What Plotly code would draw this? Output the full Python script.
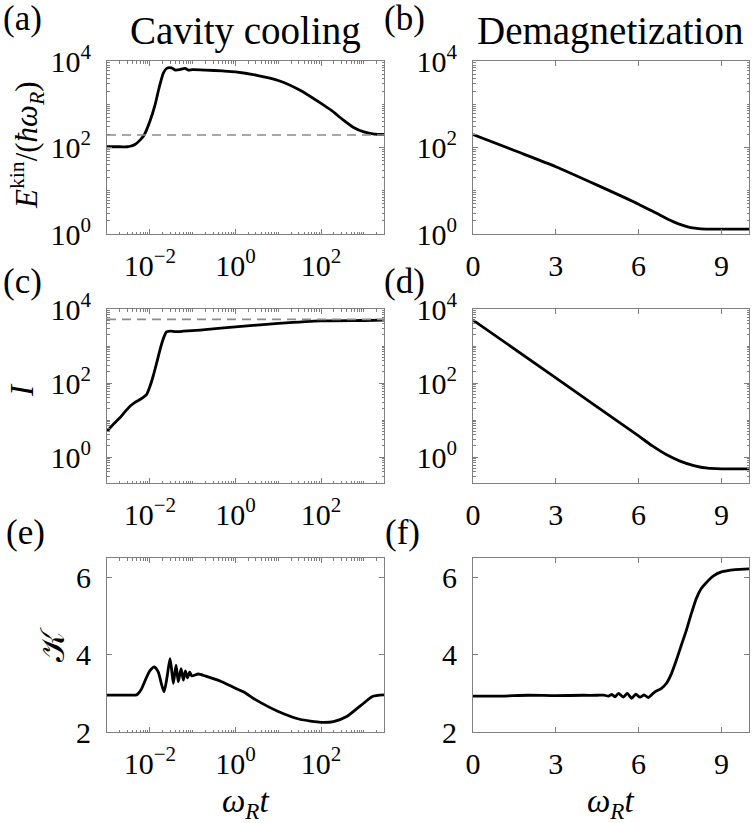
import math
import plotly.graph_objects as go

# ---------------- data ----------------
# left column: log time axis
t_ekin_cav = [1e-3, 2e-3, 3e-3, 3.5e-3, 4.5e-3, 5.9e-3, 7.4e-3, 1.0e-2, 1.32e-2, 1.64e-2,
              2.07e-2, 2.48e-2, 3.2e-2, 4.0e-2, 5.0e-2, 6.6e-2, 8e-2, 0.1, 0.2, 0.5,
              1, 3.16, 10, 31.6, 100, 178, 316, 562, 1000, 1778, 2950]
ekin_cav = [104, 104, 104, 107, 117, 148, 195, 398, 955, 2344,
            5248, 6761, 6918, 6166, 6310, 6761, 6166, 6310, 6166, 5888,
            5623, 4677, 3548, 2138, 1047, 708, 447, 295, 229, 204, 200]
ekin_ref = 195          # dashed level in (a)

t_I_cav = [1e-3, 1.5e-3, 2e-3, 2.7e-3, 3.5e-3, 4.5e-3, 5.9e-3, 7.4e-3, 8.5e-3, 1.0e-2,
           1.2e-2, 1.45e-2, 1.74e-2, 2.1e-2, 2.45e-2, 2.95e-2, 4e-2, 6e-2, 0.148, 1,
           10, 100, 1000, 2950]
I_cav = [5.0, 8.3, 11.5, 17.4, 24, 30, 36, 43, 50, 79,
         155, 355, 813, 1660, 2400, 2510, 2455, 2510, 2690, 3311,
         4074, 4786, 4898, 5012]
I_ref = 5250            # dashed level in (c)

t_K_cav = [1e-3, 3e-3, 4.9e-3, 6.3e-3, 7.9e-3, 1.0e-2, 1.27e-2, 1.58e-2, 1.86e-2, 2.15e-2,
           2.51e-2, 2.96e-2, 3.24e-2, 3.55e-2, 4.09e-2, 4.63e-2, 5.37e-2, 6.07e-2, 6.76e-2,
           7.59e-2, 8.51e-2, 9.55e-2, 0.135, 0.195, 0.479, 1, 1.53, 3.0, 10, 31.6,
           100, 195, 398, 1000, 1585, 2950]
K_cav = [2.955, 2.955, 2.96, 3.10, 3.35, 3.58, 3.685, 3.55, 3.25, 3.04,
         3.40, 3.90, 3.60, 3.26, 3.73, 3.30, 3.64, 3.34, 3.58,
         3.40, 3.55, 3.45, 3.50, 3.45, 3.30, 3.13, 3.04, 2.83, 2.53, 2.33,
         2.25, 2.27, 2.40, 2.75, 2.92, 2.96]

# right column: linear time axis
t_ekin_dem = [0, 1.5, 3, 4.5, 6, 6.65, 7.25, 7.85, 8.45, 9, 10]
ekin_dem = [200, 85, 36, 13.5, 4.9, 3.0, 1.93, 1.43, 1.30, 1.30, 1.30]

t_I_dem = [0, 3, 6, 6.5, 7, 7.5, 8, 8.5, 9, 10]
I_dem = [5012, 138, 3.72, 2.0, 1.17, 0.78, 0.59, 0.50, 0.48, 0.48]

t_K_dem = [0, 1, 2, 3, 4, 4.5, 4.73, 4.91, 5.03, 5.15, 5.27, 5.45, 5.59, 5.75, 5.90,
           6.05, 6.20, 6.35, 6.47, 6.59, 6.83, 7.01, 7.19, 7.37, 7.55, 7.73, 7.91,
           8.09, 8.27, 8.45, 8.7, 9.0, 9.5, 10]
K_dem = [2.93, 2.93, 2.95, 2.94, 2.95, 2.95, 2.955, 2.93, 2.97, 2.91, 3.00, 2.90, 3.00,
         2.87, 2.98, 2.90, 2.96, 2.89, 2.96, 3.04, 3.13, 3.26, 3.51, 3.86, 4.25, 4.63,
         5.06, 5.45, 5.71, 5.86, 6.03, 6.14, 6.20, 6.22]

titles = ["Cavity cooling", "Demagnetization"]
panel_labels = ["(a)", "(b)", "(c)", "(d)", "(e)", "(f)"]
log_x_range = [1e-3, 2950]
log_x_tickvals = [1e-2, 1, 1e2]
log_x_ticktext = ["10<sup>−2</sup>", "10<sup>0</sup>", "10<sup>2</sup>"]
log_y_tickvals = [1, 1e2, 1e4]
log_y_ticktext = ["10<sup>0</sup>", "10<sup>2</sup>", "10<sup>4</sup>"]
lin_x_tickvals = [0, 3, 6, 9]
lin_y_tickvals = [2, 4, 6]

# ---------------- figure ----------------
W, H = 754, 823
FONT = "Liberation Serif"
AX = "#7f7f7f"

def px(x):
    return x / W

def py(y):
    return 1 - y / H

xdomL = [px(107), px(384)]
xdomR = [px(473), px(749)]
rows = [[py(234), py(61)], [py(483), py(309)], [py(732), py(558)]]

fig = go.Figure()
line = dict(color="black", width=2.8, shape="spline", smoothing=0.6)

series = [
    (t_ekin_cav, ekin_cav, 1), (t_ekin_dem, ekin_dem, 2),
    (t_I_cav, I_cav, 3), (t_I_dem, I_dem, 4),
    (t_K_cav, K_cav, 5), (t_K_dem, K_dem, 6),
]
for xs, ys, k in series:
    sfx = "" if k == 1 else str(k)
    fig.add_trace(go.Scatter(x=xs, y=ys, mode="lines", line=line,
                             xaxis="x" + sfx, yaxis="y" + sfx, showlegend=False))

dash = dict(color="#8c8c8c", width=1.6, dash="9px,6px")
fig.add_trace(go.Scatter(x=log_x_range, y=[ekin_ref, ekin_ref], mode="lines", line=dash,
                         xaxis="x", yaxis="y", showlegend=False))
fig.add_trace(go.Scatter(x=log_x_range, y=[I_ref, I_ref], mode="lines", line=dash,
                         xaxis="x3", yaxis="y3", showlegend=False))

def minor_vals(lo, hi):
    return [m * 10.0 ** e for e in range(-4, 5) for m in range(1, 10)
            if lo <= math.log10(m * 10.0 ** e) <= hi]

tickfont = dict(family=FONT, size=30, color="black")
common = dict(showline=True, linecolor=AX, linewidth=1, mirror="ticks", ticks="inside",
              tickcolor=AX, ticklen=5, showgrid=False, zeroline=False, tickfont=tickfont,
              automargin=False)

lay = {}
xlo, xhi = math.log10(log_x_range[0]), math.log10(log_x_range[1])
for k in range(1, 7):
    sfx = "" if k == 1 else str(k)
    left = (k % 2 == 1)
    r = (k - 1) // 2
    xa = dict(common, domain=xdomL if left else xdomR, anchor="y" + sfx,
              ticklabelstandoff=5)
    if left:
        xa.update(type="log", range=[xlo, xhi], tickmode="array",
                  tickvals=log_x_tickvals, ticktext=log_x_ticktext,
                  minor=dict(ticks="inside", ticklen=2.5, tickcolor=AX, tickmode="array",
                             tickvals=minor_vals(xlo, xhi), showgrid=False))
    else:
        xa.update(type="linear", range=[0, 10], tickmode="array",
                  tickvals=lin_x_tickvals, ticktext=[str(v) for v in lin_x_tickvals])
    ya = dict(common, domain=rows[r], anchor="x" + sfx, ticklabelstandoff=9)
    if r < 2:
        ylo = 0 if r == 0 else -0.7
        ya.update(type="log", range=[ylo, 4], tickmode="array",
                  tickvals=log_y_tickvals, ticktext=log_y_ticktext,
                  minor=dict(ticks="inside", ticklen=2.5, tickcolor=AX, tickmode="array",
                             tickvals=minor_vals(ylo, 4), showgrid=False))
    else:
        ya.update(type="linear", range=[2, 6.5], tickmode="array",
                  tickvals=lin_y_tickvals, ticktext=[str(v) for v in lin_y_tickvals])
    lay["xaxis" + sfx] = xa
    lay["yaxis" + sfx] = ya

ann = []
def text(t, x, y, size, angle=0):
    ann.append(dict(text=t, x=px(x), y=py(y), xref="paper", yref="paper",
                    xanchor="center", yanchor="middle", showarrow=False,
                    textangle=angle, font=dict(family=FONT, size=size, color="black")))

text(titles[0], 245, 31, 39)
text(titles[1], 610, 31, 39)
for lab, (x, y) in zip(panel_labels, [(22, 18), (404, 18), (22, 281), (404, 281), (25, 532), (402, 532)]):
    text(lab, x, y, 35)
text("<i>E</i><sup>kin</sup>/(<i>ħω<sub>R</sub></i>)", 27, 145, 31, -90)
text("<i>I</i>", 22, 390, 33, -90)
text("𝒦", 53, 645, 33, -90)
text("<i>ω<sub>R</sub>t</i>", 245, 803, 33)
text("<i>ω<sub>R</sub>t</i>", 610, 803, 33)

fig.update_layout(template="none", width=W, height=H, margin=dict(l=0, r=0, t=0, b=0),
                  paper_bgcolor="white", plot_bgcolor="white",
                  font=dict(family=FONT, color="black"), annotations=ann, **lay)
fig.write_html("out.html", config={"displayModeBar": False, "staticPlot": True},
               post_script="document.body.style.margin='0px';document.body.style.overflow='hidden';")
